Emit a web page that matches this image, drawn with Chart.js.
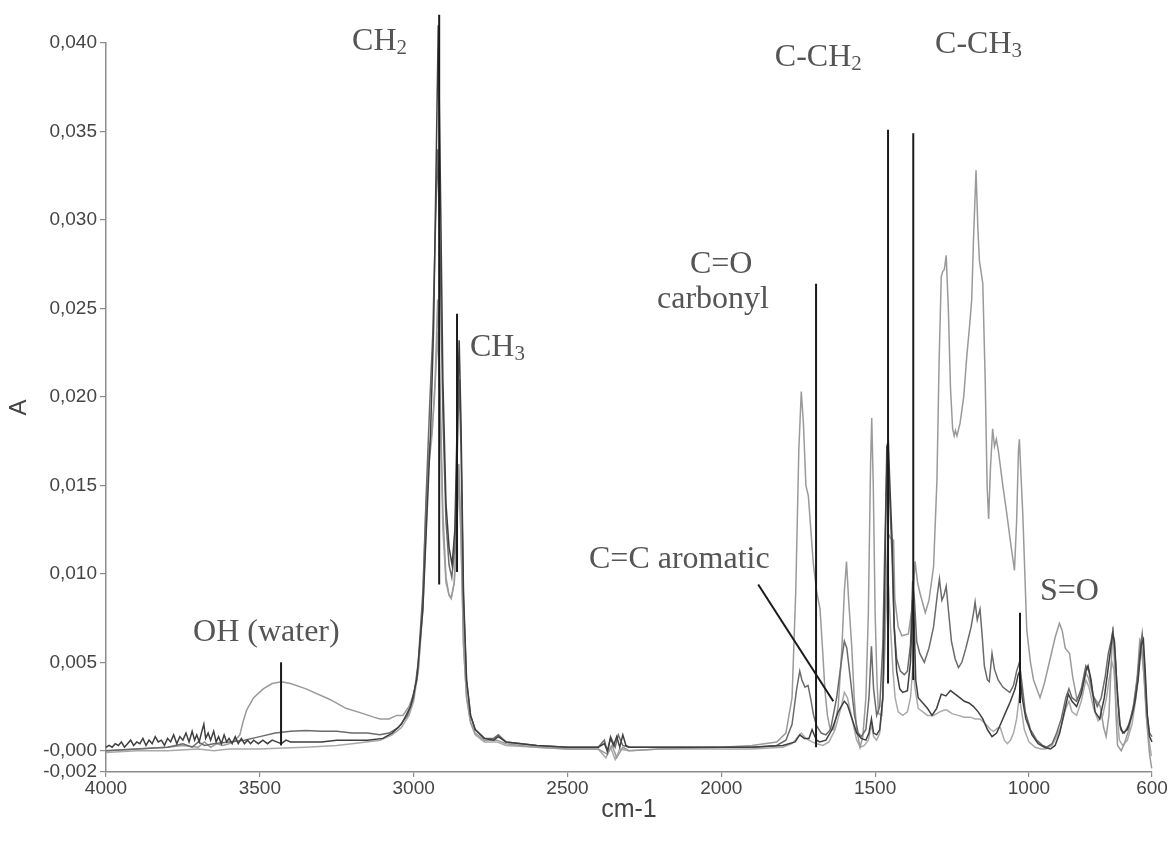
<!DOCTYPE html>
<html>
<head>
<meta charset="utf-8">
<script src="https://cdn.jsdelivr.net/npm/chart.js@4/dist/chart.umd.min.js"></script>
<style>
html,body{margin:0;padding:0;background:#fff;}
#c{display:block;}
</style>
</head>
<body>
<canvas id="c" width="1174" height="842"></canvas>
<script>
// ---- Data (wavenumber cm-1, absorbance A) ----
const xTicks = [4000, 3500, 3000, 2500, 2000, 1500, 1000, 600];
const yTicks = [-0.0012, 0, 0.005, 0.010, 0.015, 0.020, 0.025, 0.030, 0.035, 0.040];
const yTickLabels = ['-0,002', '-0,000', '0,005', '0,010', '0,015', '0,020', '0,025', '0,030', '0,035', '0,040'];

const s1Wn = [4000,3900,3800,3750,3700,3680,3660,3640,3620,3600,3580,3565,3555,3543,3520,3489,3460,3430,3400,3350,3272,3220,3164,3130,3109,3080,3055,3035,3015,3000,2985,2970,2958,2950,2940,2930,2922,2915,2905,2895,2885,2878,2868,2860,2853,2846,2838,2828,2815,2800,2770,2730,2700,2600,2500,2400,2370,2355,2340,2320,2300,2200,2000,1900,1820,1790,1770,1758,1748,1740,1733,1725,1717,1709,1701,1690,1679,1670,1663,1655,1646,1635,1620,1608,1600,1593,1586,1576,1568,1560,1549,1540,1530,1522,1515,1511,1506,1500,1494,1489,1478,1470,1463,1458,1450,1440,1436,1425,1413,1392,1380,1370,1362,1354,1337,1325,1310,1299,1292,1285,1280,1275,1269,1262,1255,1248,1243,1239,1234,1224,1212,1202,1193,1186,1180,1172,1166,1161,1150,1142,1136,1131,1125,1118,1112,1106,1099,1085,1072,1060,1047,1040,1034,1031,1027,1020,1007,995,985,964,950,931,915,901,892,882,868,858,844,830,815,806,792,780,768,757,749,740,733,727,722,717,712,700,690,675,660,648,640,634,625,615,608,601];
const s1A = [0.0000,0.0001,0.0002,0.0003,0.0002,0.0005,0.0002,0.0004,0.0003,0.0004,0.0006,0.0009,0.0016,0.0023,0.0030,0.0035,0.0038,0.0039,0.0038,0.0035,0.0029,0.0024,0.0021,0.0019,0.0018,0.0018,0.0020,0.0020,0.0025,0.0032,0.0045,0.0080,0.0135,0.0170,0.0180,0.0210,0.0255,0.0210,0.0135,0.0098,0.0088,0.0086,0.0095,0.0125,0.0162,0.0120,0.0060,0.0030,0.0016,0.0010,0.0006,0.0006,0.0004,0.0002,0.0001,0.0001,-0.0002,0.0003,-0.0004,0.0002,0.0000,0.0001,0.0002,0.0003,0.0005,0.0010,0.0030,0.0090,0.0170,0.0203,0.0185,0.0150,0.0144,0.0125,0.0106,0.0090,0.0080,0.0055,0.0034,0.0020,0.0012,0.0012,0.0025,0.0058,0.0090,0.0107,0.0085,0.0059,0.0030,0.0012,0.0002,0.0008,0.0030,0.0078,0.0160,0.0188,0.0150,0.0078,0.0040,0.0021,0.0020,0.0050,0.0100,0.0123,0.0120,0.0119,0.0086,0.0070,0.0065,0.0066,0.0080,0.0107,0.0095,0.0089,0.0078,0.0085,0.0104,0.0153,0.0220,0.0268,0.0271,0.0272,0.0280,0.0250,0.0205,0.0182,0.0178,0.0181,0.0178,0.0185,0.0200,0.0223,0.0240,0.0255,0.0290,0.0328,0.0295,0.0277,0.0264,0.0208,0.0150,0.0131,0.0160,0.0182,0.0172,0.0176,0.0169,0.0150,0.0134,0.0118,0.0102,0.0130,0.0170,0.0176,0.0160,0.0134,0.0068,0.0050,0.0040,0.0030,0.0038,0.0052,0.0064,0.0072,0.0068,0.0058,0.0055,0.0042,0.0029,0.0033,0.0044,0.0041,0.0031,0.0028,0.0025,0.0013,0.0008,0.0020,0.0048,0.0070,0.0050,0.0020,0.0003,0.0000,0.0004,0.0012,0.0026,0.0042,0.0062,0.0058,0.0040,0.0012,-0.0002,-0.0010];

const s2Wn = [4000,3900,3800,3750,3720,3700,3680,3650,3600,3550,3500,3450,3400,3350,3300,3250,3200,3150,3110,3080,3050,3020,3000,2985,2970,2958,2948,2938,2930,2922,2915,2905,2895,2885,2876,2866,2858,2852,2846,2838,2828,2815,2800,2770,2740,2725,2700,2600,2500,2400,2380,2370,2360,2345,2335,2320,2300,2200,2000,1900,1820,1790,1770,1755,1745,1738,1728,1718,1710,1700,1690,1675,1660,1645,1625,1610,1600,1592,1580,1567,1555,1545,1530,1520,1512,1505,1495,1485,1475,1468,1462,1457,1452,1445,1438,1430,1418,1405,1395,1385,1378,1372,1365,1355,1340,1325,1310,1298,1291,1283,1276,1269,1262,1252,1240,1229,1218,1205,1195,1188,1180,1175,1168,1159,1152,1145,1135,1129,1124,1120,1112,1100,1085,1070,1062,1050,1040,1031,1024,1012,995,975,955,942,925,910,895,880,870,860,845,830,815,805,792,778,765,752,742,733,727,720,712,702,690,675,660,648,640,632,625,617,608,600];
const s2A = [0.0000,0.0001,0.0002,0.0004,0.0002,0.0005,0.0003,0.0004,0.0005,0.0006,0.0008,0.0010,0.0011,0.00115,0.0011,0.0011,0.0010,0.0010,0.0009,0.0010,0.0013,0.0020,0.0030,0.0050,0.0090,0.0150,0.0195,0.0235,0.0290,0.0340,0.0290,0.0190,0.0130,0.0105,0.0098,0.0115,0.0170,0.0210,0.0170,0.0085,0.0040,0.0020,0.0012,0.0007,0.0007,0.0009,0.0005,0.0003,0.0002,0.0002,0.0006,-0.0001,0.0008,0.0002,0.0009,0.0003,0.0002,0.0002,0.0002,0.0002,0.0003,0.0006,0.0015,0.0035,0.0045,0.0040,0.0036,0.0037,0.0030,0.0020,0.0014,0.0010,0.0009,0.0012,0.0030,0.0050,0.0062,0.0058,0.0040,0.0020,0.0010,0.0008,0.0012,0.0030,0.0059,0.0035,0.0020,0.0025,0.0060,0.0120,0.0160,0.0162,0.0140,0.0110,0.0070,0.0052,0.0045,0.0043,0.0045,0.0060,0.0096,0.0085,0.0062,0.0055,0.0050,0.0058,0.0070,0.0088,0.0097,0.0085,0.0088,0.0093,0.0080,0.0062,0.0052,0.0047,0.0050,0.0058,0.0065,0.0070,0.0078,0.0084,0.0074,0.0080,0.0065,0.0048,0.0040,0.0039,0.0048,0.0055,0.0046,0.0040,0.0036,0.0034,0.0033,0.0037,0.0045,0.0050,0.0040,0.0022,0.0012,0.0006,0.0003,0.0002,0.0004,0.0010,0.0018,0.0030,0.0035,0.0030,0.0028,0.0035,0.0048,0.0045,0.0032,0.0025,0.0030,0.0042,0.0055,0.0062,0.0068,0.0055,0.0030,0.0012,0.0010,0.0015,0.0025,0.0040,0.0055,0.0066,0.0050,0.0022,0.0010,0.0008];

const s3Wn = [4000,3990,3980,3970,3960,3950,3940,3930,3920,3910,3900,3890,3880,3870,3860,3850,3840,3830,3820,3810,3800,3790,3780,3770,3760,3750,3740,3730,3720,3712,3705,3697,3690,3682,3676,3668,3660,3650,3642,3634,3625,3616,3608,3600,3590,3580,3570,3560,3550,3540,3530,3520,3505,3490,3475,3460,3445,3430,3415,3400,3350,3300,3250,3200,3150,3100,3070,3040,3010,2990,2970,2955,2945,2935,2927,2920,2913,2905,2895,2885,2875,2866,2858,2852,2846,2838,2828,2815,2800,2770,2740,2725,2700,2650,2600,2500,2400,2380,2370,2360,2350,2340,2330,2320,2310,2300,2200,2000,1900,1800,1760,1745,1730,1715,1705,1698,1690,1680,1660,1640,1620,1600,1590,1575,1560,1545,1530,1520,1512,1505,1495,1485,1475,1468,1462,1457,1452,1445,1438,1430,1420,1410,1395,1385,1378,1374,1368,1360,1345,1330,1315,1300,1285,1270,1255,1240,1225,1210,1195,1180,1165,1150,1135,1120,1105,1090,1075,1060,1045,1035,1030,1022,1010,990,970,950,930,915,900,885,872,860,845,830,815,808,798,785,770,755,740,728,722,715,705,695,680,665,655,645,635,628,622,615,608,600];
const s3A = [0.0002,0.0003,0.0002,0.0004,0.0003,0.0005,0.0002,0.0004,0.0006,0.0003,0.0005,0.0004,0.0007,0.0003,0.0006,0.0004,0.0008,0.0005,0.0006,0.0003,0.0007,0.0005,0.0009,0.0004,0.0008,0.0006,0.0010,0.0005,0.0011,0.0006,0.0009,0.0005,0.0010,0.0015,0.0007,0.0010,0.0006,0.0011,0.0005,0.0008,0.0004,0.0009,0.0005,0.0007,0.0004,0.0008,0.0004,0.0007,0.0004,0.0006,0.0004,0.0006,0.0004,0.0006,0.0004,0.0006,0.0005,0.0004,0.0006,0.0005,0.0005,0.0005,0.0006,0.0006,0.0006,0.0007,0.0010,0.0015,0.0025,0.0040,0.0080,0.0140,0.0180,0.0240,0.0330,0.0410,0.0320,0.0210,0.0140,0.0115,0.0105,0.0125,0.0190,0.0232,0.0185,0.0090,0.0040,0.0020,0.0012,0.0007,0.0006,0.0008,0.0005,0.0004,0.0003,0.0002,0.0002,0.0004,0.0000,0.0007,0.0003,0.0008,0.0002,0.0009,0.0003,0.0002,0.0002,0.0002,0.0002,0.0003,0.0005,0.0009,0.0007,0.0007,0.0012,0.0009,0.0006,0.0005,0.0006,0.0012,0.0022,0.0028,0.0026,0.0018,0.0010,0.0007,0.0006,0.0010,0.0018,0.0010,0.0009,0.0012,0.0030,0.0100,0.0172,0.0175,0.0150,0.0120,0.0070,0.0045,0.0035,0.0033,0.0034,0.0050,0.0085,0.0078,0.0040,0.0030,0.0027,0.0024,0.0020,0.0024,0.0032,0.0031,0.0034,0.0032,0.0030,0.0028,0.0027,0.0025,0.0022,0.0018,0.0012,0.0008,0.0010,0.0016,0.0022,0.0028,0.0035,0.0043,0.0045,0.0030,0.0018,0.0009,0.0004,0.0002,0.0001,0.0003,0.0010,0.0022,0.0032,0.0028,0.0025,0.0032,0.0045,0.0048,0.0040,0.0022,0.0018,0.0030,0.0050,0.0066,0.0062,0.0040,0.0015,0.0010,0.0012,0.0020,0.0028,0.0040,0.0060,0.0063,0.0045,0.0020,0.0008,0.0005];

const s4Wn = [4000,3900,3800,3700,3650,3600,3500,3424,3350,3250,3200,3109,3070,3040,3015,3000,2985,2970,2960,2952,2942,2932,2922,2915,2905,2895,2885,2877,2868,2860,2853,2846,2838,2828,2815,2800,2770,2730,2700,2600,2500,2400,2375,2360,2345,2330,2300,2200,2000,1900,1800,1770,1750,1740,1725,1705,1690,1670,1650,1630,1610,1600,1590,1575,1560,1548,1535,1522,1512,1505,1495,1485,1475,1468,1462,1456,1450,1442,1435,1425,1410,1395,1385,1377,1370,1360,1345,1330,1310,1290,1275,1267,1250,1230,1210,1190,1175,1159,1140,1125,1115,1100,1093,1080,1070,1060,1050,1040,1032,1026,1015,1000,980,960,945,925,910,895,880,870,860,845,830,815,805,790,775,760,748,738,730,724,716,706,695,680,665,652,642,636,628,618,608,602];
const s4A = [-0.0001,0.0000,0.0000,0.0001,0.0000,0.0001,0.0001,0.00015,0.0002,0.0003,0.0004,0.0006,0.0009,0.0013,0.0020,0.0028,0.0045,0.0085,0.0140,0.0160,0.0175,0.0200,0.0237,0.0200,0.0125,0.0095,0.0088,0.0087,0.0095,0.0125,0.0155,0.0120,0.0060,0.0030,0.0016,0.0009,0.0005,0.0005,0.0003,0.0002,0.0001,0.0001,-0.0004,0.0002,-0.0005,0.0001,0.0000,0.0001,0.0001,0.0001,0.0002,0.0004,0.0008,0.0010,0.0007,0.0005,0.0004,0.0003,0.0005,0.0012,0.0025,0.0033,0.0030,0.0018,0.0006,0.0002,0.0003,0.0006,0.0015,0.0008,0.0006,0.0010,0.0030,0.0065,0.0090,0.0092,0.0070,0.0045,0.0030,0.0022,0.0020,0.0022,0.0030,0.0048,0.0035,0.0024,0.0022,0.0020,0.0020,0.0022,0.0023,0.0023,0.0021,0.0020,0.0019,0.0019,0.0018,0.0018,0.0015,0.0012,0.0011,0.0013,0.0013,0.0006,0.0004,0.0006,0.0010,0.0018,0.0030,0.0025,0.0012,0.0005,0.0002,0.0001,0.0001,0.0003,0.0008,0.0014,0.0024,0.0028,0.0022,0.0020,0.0028,0.0040,0.0036,0.0024,0.0017,0.0020,0.0030,0.0042,0.0050,0.0046,0.0025,0.0006,0.0003,0.0006,0.0015,0.0030,0.0048,0.0060,0.0048,0.0018,0.0004,-0.0003];

// ---- Annotations (data coordinates) ----
const annoLines = [
  [2917, 0.0094, 2917, 0.0416],
  [2859, 0.0101, 2859, 0.0247],
  [3431, 0.0003, 3431, 0.0050],
  [1692, 0.0002, 1692, 0.0264],
  [1880, 0.0094, 1636, 0.0028],
  [1458, 0.0038, 1458, 0.0351],
  [1376, 0.0040, 1376, 0.0349],
  [1029, 0.0027, 1029, 0.0078]
];
const annoTexts = [
  {x: 3200, y: 0.0401, parts: [['CH'], ['2', 1]]},
  {x: 2817, y: 0.0228, parts: [['CH'], ['3', 1]]},
  {x: 3717, y: 0.0067, parts: [['OH (water)']]},
  {x: 2102, y: 0.0275, parts: [['C=O']]},
  {x: 2209, y: 0.0255, parts: [['carbonyl']]},
  {x: 2430, y: 0.0108, parts: [['C=C aromatic']]},
  {x: 1826, y: 0.0392, parts: [['C-CH'], ['2', 1]]},
  {x: 1305, y: 0.0399, parts: [['C-CH'], ['3', 1]]},
  {x: 964,  y: 0.0090, parts: [['S=O']]}
];

function pts(wn, a) { return wn.map((w, i) => ({x: w, y: a[i]})); }

const annoPlugin = {
  id: 'anno',
  afterDatasetsDraw(chart) {
    const ctx = chart.ctx, xs = chart.scales.x, ys = chart.scales.y;
    ctx.save();
    ctx.strokeStyle = '#1a1a1a';
    ctx.lineWidth = 2;
    annoLines.forEach(l => {
      ctx.beginPath();
      ctx.moveTo(xs.getPixelForValue(l[0]), ys.getPixelForValue(l[1]));
      ctx.lineTo(xs.getPixelForValue(l[2]), ys.getPixelForValue(l[3]));
      ctx.stroke();
    });
    ctx.fillStyle = '#555555';
    ctx.textBaseline = 'middle';
    ctx.textAlign = 'left';
    annoTexts.forEach(t => {
      let px = xs.getPixelForValue(t.x);
      const py = ys.getPixelForValue(t.y);
      t.parts.forEach(p => {
        const sub = p[1] === 1;
        ctx.font = (sub ? '21px' : '32px') + ' "Liberation Serif", "Times New Roman", serif';
        ctx.fillText(p[0], px, py + (sub ? 7 : 0));
        px += ctx.measureText(p[0]).width;
      });
    });
    ctx.restore();
  }
};

const axisGrey = '#8c8c8c';
const labelGrey = '#444444';

new Chart(document.getElementById('c'), {
  type: 'line',
  data: {
    datasets: [
      {data: pts(s3Wn, s3A), borderColor: '#3f3f3f', order: 0},
      {data: pts(s2Wn, s2A), borderColor: '#6b6b6b', order: 1},
      {data: pts(s1Wn, s1A), borderColor: '#9a9a9a', order: 2},
      {data: pts(s4Wn, s4A), borderColor: '#a9a9a9', order: 3}
    ].map(d => Object.assign(d, {borderWidth: 1.5, pointRadius: 0, tension: 0, fill: false, clip: false}))
  },
  options: {
    responsive: false,
    animation: false,
    events: [],
    layout: {padding: {top: 43, right: 22, left: 5, bottom: 17}},
    plugins: {legend: {display: false}, tooltip: {enabled: false}},
    scales: {
      x: {
        type: 'linear', reverse: true, min: 600, max: 4000,
        afterBuildTicks: s => { s.ticks = xTicks.map(v => ({value: v})); },
        afterFit: s => { s.height = 53; },
        grid: {display: true, drawOnChartArea: false, drawTicks: true, tickLength: 5, color: axisGrey, lineWidth: 1.2},
        border: {display: true, color: axisGrey, width: 1.5},
        ticks: {color: labelGrey, padding: 0, maxRotation: 0, autoSkip: false,
          font: {family: '"Liberation Sans Narrow", "Arial Narrow", "Liberation Sans", sans-serif', size: 19},
          callback: v => String(v)},
        title: {display: true, text: 'cm-1', color: labelGrey, padding: {top: 0, bottom: 0},
          font: {family: '"Liberation Sans Narrow", "Arial Narrow", "Liberation Sans", sans-serif', size: 25}}
      },
      y: {
        type: 'linear', min: -0.0012, max: 0.040,
        afterBuildTicks: s => { s.ticks = yTicks.map(v => ({value: v})); },
        afterFit: s => { s.width = 101; },
        grid: {display: true, drawOnChartArea: false, drawTicks: true, tickLength: 6, color: axisGrey, lineWidth: 1.2},
        border: {display: true, color: axisGrey, width: 1.5},
        ticks: {color: labelGrey, padding: 3, autoSkip: false,
          font: {family: '"Liberation Sans", Arial, sans-serif', size: 19},
          callback: (v, i) => yTickLabels[i]},
        title: {display: true, text: 'A', color: labelGrey, padding: {top: 0, bottom: 0},
          font: {family: '"Liberation Sans", Arial, sans-serif', size: 24}}
      }
    }
  },
  plugins: [annoPlugin]
});
</script>
</body>
</html>
